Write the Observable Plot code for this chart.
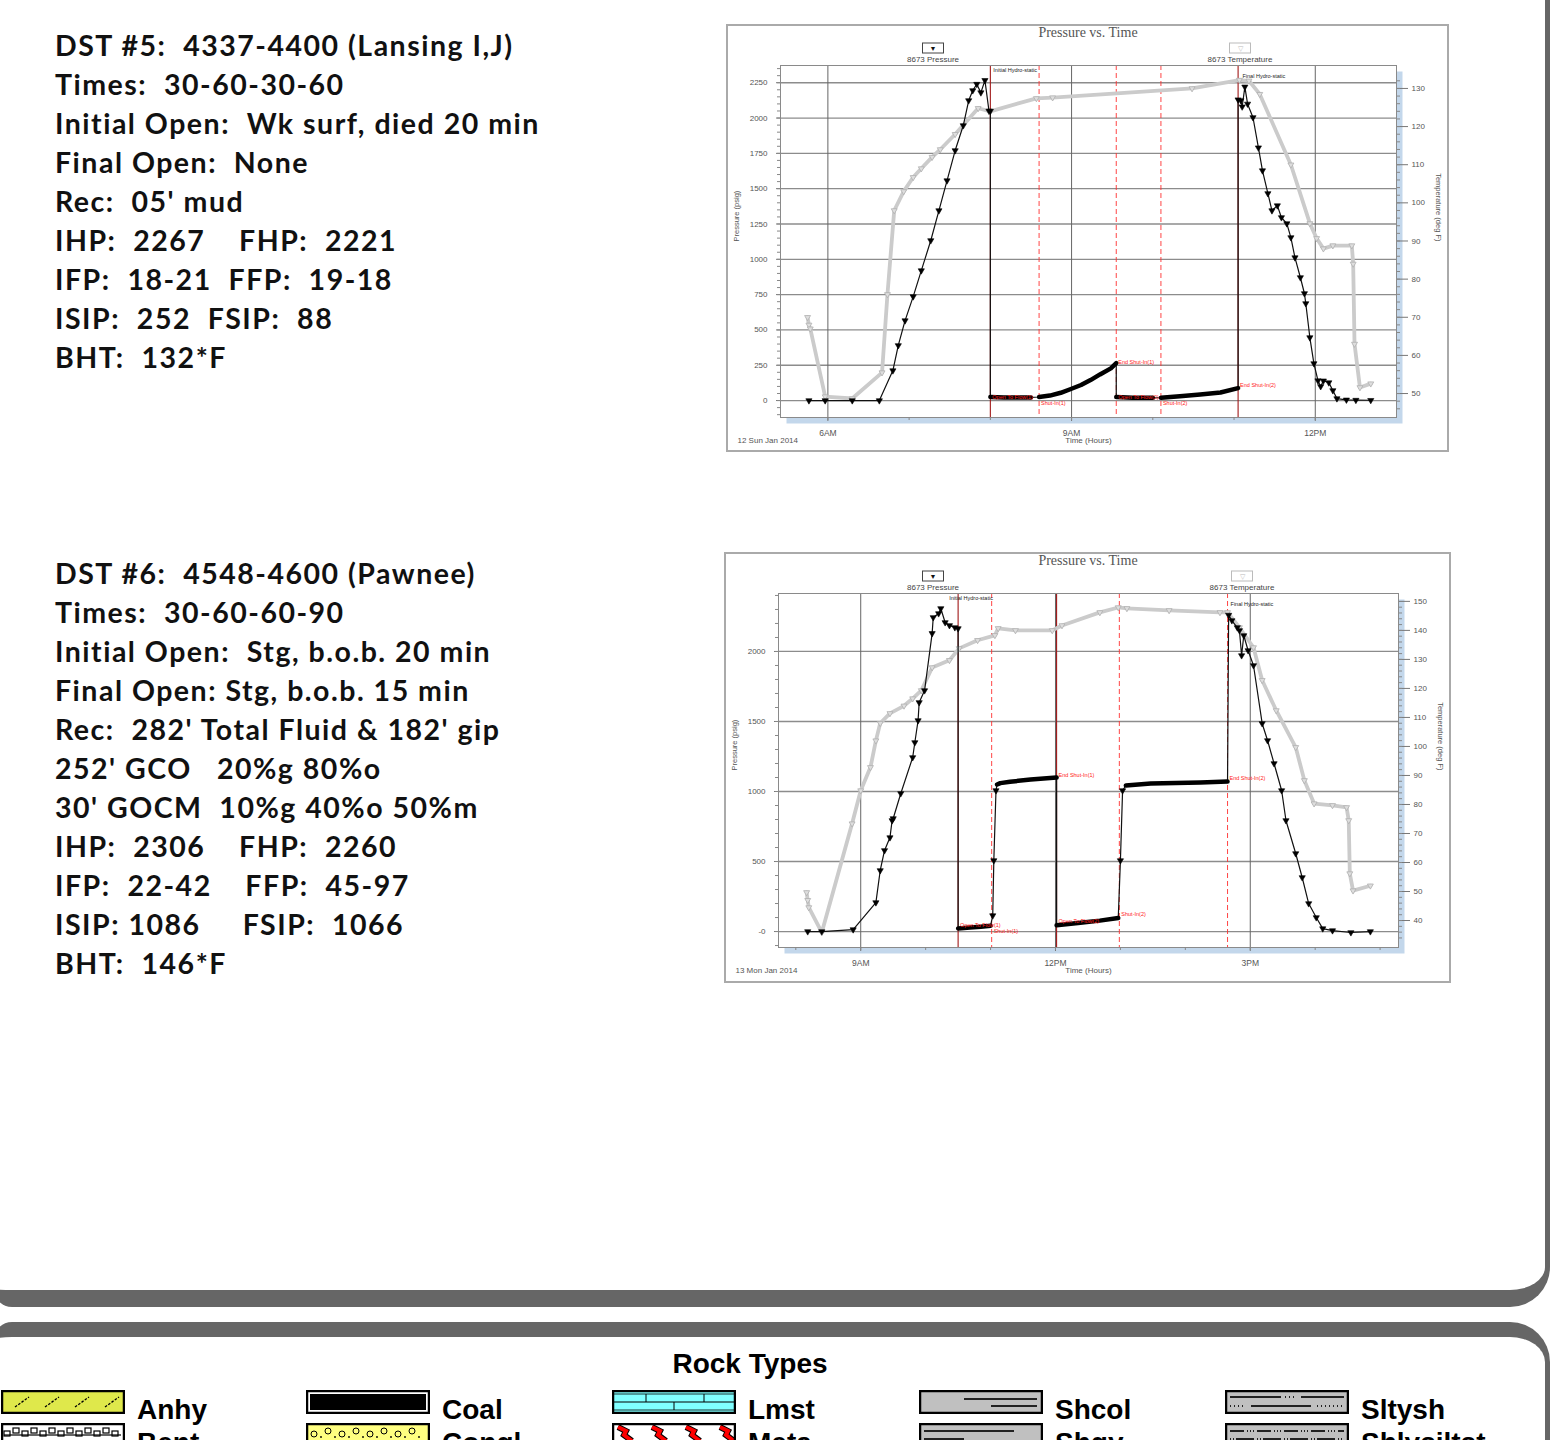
<!DOCTYPE html>
<html><head><meta charset="utf-8">
<script src="https://cdn.jsdelivr.net/npm/d3@7"></script>
<script src="https://cdn.jsdelivr.net/npm/@observablehq/plot@0.6"></script>
<style>
body{margin:0;width:1552px;height:1440px;position:relative;overflow:hidden;background:#fff;font-family:"Liberation Sans",Arial,sans-serif;}
.panelTop{position:absolute;left:-6px;top:-40px;width:1556px;height:1347px;box-sizing:border-box;border-style:solid;border-color:#666;border-width:0 5px 17px 0;border-radius:0 0 40px 18px;}
.panelBot{position:absolute;left:-6px;top:1322px;width:1556px;height:300px;box-sizing:border-box;border-style:solid;border-color:#666;border-width:15px 5px 0 0;border-radius:18px 40px 0 0;}
.dst{position:absolute;left:55px;font-family:Lato,"Open Sans",sans-serif;font-weight:700;font-size:28.5px;letter-spacing:1.5px;line-height:39px;white-space:pre;color:#111;}
.chart{position:absolute;outline:2px solid #aaa;outline-offset:-2px;background:#fff;}
.ttl{position:absolute;transform:translate(-50%,-50%);font-family:"Liberation Serif","DejaVu Serif",serif;font-size:14px;color:#555;white-space:nowrap;}
.lgbox{position:absolute;width:20px;height:9px;border:1px solid #444;transform:translate(-50%,-50%);font-size:7px;line-height:9px;text-align:center;color:#111;}
.lglab{position:absolute;transform:translate(-50%,-50%);font-size:8px;color:#444;white-space:nowrap;}
.rtitle{position:absolute;left:0;width:1500px;top:1348px;line-height:32px;text-align:center;font-weight:700;font-size:28px;color:#000;}
.rlab{position:absolute;font-weight:700;font-size:28px;line-height:32px;color:#000;white-space:nowrap;}
.sw{position:absolute;}
</style></head>
<body>
<div class="panelTop"></div>
<div class="panelBot"></div>
<div id="txt5" class="dst" style="top:26px"></div>
<div id="txt6" class="dst" style="top:554px"></div>
<div id="c1" class="chart" style="left:726px;top:24px;width:723px;height:428px"></div>
<div id="c2" class="chart" style="left:724px;top:552px;width:727px;height:431px"></div>
<div class="rtitle">Rock Types</div>
<div id="rocks"></div>
<script>
// ---------- text blocks ----------
const dst5Lines = [
"DST #5:  4337-4400 (Lansing I,J)",
"Times:  30-60-30-60",
"Initial Open:  Wk surf, died 20 min",
"Final Open:  None",
"Rec:  05' mud",
"IHP:  2267    FHP:  2221",
"IFP:  18-21  FFP:  19-18",
"ISIP:  252  FSIP:  88",
"BHT:  132*F"];
const dst6Lines = [
"DST #6:  4548-4600 (Pawnee)",
"Times:  30-60-60-90",
"Initial Open:  Stg, b.o.b. 20 min",
"Final Open: Stg, b.o.b. 15 min",
"Rec:  282' Total Fluid & 182' gip",
"252' GCO   20%g 80%o",
"30' GOCM  10%g 40%o 50%m",
"IHP:  2306    FHP:  2260",
"IFP:  22-42    FFP:  45-97",
"ISIP: 1086     FSIP:  1066",
"BHT:  146*F"];

// ---------- DST #5 chart data (12 Sun Jan 2014) ----------
const dst5Times = ["05:46","05:58","06:18","06:38","06:48","06:52","06:57","07:03","07:09","07:16","07:22","07:28","07:34","07:40","07:44","07:47","07:50","07:53","07:56","07:59","08:00",
 "08:00","08:10","08:20","08:30",
 "08:36","08:44","08:52","08:59","09:07","09:14","09:21","09:29","09:33",
 "09:33","09:45","10:00",
 "10:06","10:20","10:35","10:50","11:03",
 "11:03","11:05","11:06","11:08","11:10","11:14","11:18","11:21","11:25","11:28","11:32","11:35","11:39","11:42","11:45","11:49","11:52","11:53","11:56","11:59","12:02","12:04","12:06","12:10","12:13","12:16","12:23","12:30","12:41"];
const dst5Pressure = [0,0,0,0,212,390,566,736,920,1133,1345,1557,1770,1947,2124,2195,2240,2180,2267,2050,2050,
 25,22,21,22,
 25,35,55,80,110,145,185,228,265,
 25,20,19,
 20,30,42,57,88,
 2130,2124,2080,2221,2100,2004,1790,1628,1466,1345,1380,1296,1253,1154,1012,871,758,687,446,262,141,100,140,127,71,14,5,3,2];
const dst5Phase = ["run","run","run","run","run","run","run","run","run","run","run","run","run","run","run","run","run","run","run","run","run",
 "flow1","flow1","flow1","flow1",
 "shut1","shut1","shut1","shut1","shut1","shut1","shut1","shut1","shut1",
 "flow2","flow2","flow2",
 "shut2","shut2","shut2","shut2","shut2",
 "pull","pull","pull","pull","pull","pull","pull","pull","pull","pull","pull","pull","pull","pull","pull","pull","pull","pull","pull","pull","pull","pull","pull","pull","pull","pull","pull","pull","pull"];
const dst5TempTimes = ["05:45","05:46","05:47","05:58","06:18","06:40","06:44","06:49","06:56","07:03","07:09","07:17","07:23","07:34","07:51","08:00","08:34","08:46","10:29","11:04","11:11","11:19","11:42","11:56","12:01","12:06","12:13","12:27","12:28","12:29","12:33","12:41"];
const dst5Temp = [70,68,67,49.2,48.7,55.5,76,98,103,106.7,109,112,114,118,124.8,124,127.4,127.6,130,132.2,132,128.5,110,94.6,90.7,88,88.8,88.8,84,63,51.6,52.6];
const dst5EventTimes = ["08:00","08:36","09:33","10:06","11:03"];
const dst5EventNames = ["Open To Flow(1)","Shut-In(1)","End Shut-In(1)","Shut-In(2)","End Shut-In(2)"];
const dst5NoteNames = ["Initial Hydro-static","Final Hydro-static","Open To Flow(1)","Shut-In(1)","End Shut-In(1)","Open To Flow(2)","Shut-In(2)","End Shut-In(2)"];
const dst5NoteTimes = ["08:00","11:04","08:00","08:36","09:33","09:33","10:06","11:03"];
const dst5NoteValues = [2336,2294,22,-22,270,22,-18,110];
const dst5PTicks = [0,250,500,750,1000,1250,1500,1750,2000,2250];
const dst5PTickLabels = ["0","250","500","750","1000","1250","1500","1750","2000","2250"];
const dst5TTicks = [50,60,70,80,90,100,110,120,130];
const dst5XTicks = ["06:00","09:00","12:00"];
const dst5XLabels = ["6AM","9AM","12PM"];

// ---------- DST #6 chart data (13 Mon Jan 2014) ----------
const dst6Times = ["08:11","08:24","08:53","09:14","09:18","09:22","09:27","09:29","09:30","09:37","09:48","09:50","09:53","09:54","09:59","10:06","10:07","10:12","10:14","10:18","10:22","10:27","10:30",
 "10:30","10:41","10:51","11:00",
 "11:02","11:03","11:05",
 "11:06","11:09","11:18","11:37","12:01",
 "12:01","12:23","12:41","12:58",
 "13:00","13:02",
 "13:05","13:28","14:14","14:39",
 "14:40","14:43","14:48","14:50","14:52","14:54","14:58","15:03","15:11","15:16","15:22","15:29","15:33","15:42","15:48","15:54","16:01","16:07","16:16","16:33","16:51"];
const dst6Pressure = [0,0,14,207,436,579,671,793,807,986,1243,1350,1507,1636,1721,2129,2243,2271,2307,2207,2186,2171,2164,
 22,28,35,42,
 114,507,1007,
 1050,1060,1070,1085,1100,
 45,62,78,97,
 507,1007,
 1043,1057,1064,1071,
 2260,2221,2171,2150,1971,2114,2007,1900,1486,1364,1200,1007,793,557,386,200,100,21,7,-7,0];
const dst6Phase = ["run","run","run","run","run","run","run","run","run","run","run","run","run","run","run","run","run","run","run","run","run","run","run",
 "flow1","flow1","flow1","flow1",
 "jump","jump","jump",
 "shut1","shut1","shut1","shut1","shut1",
 "flow2","flow2","flow2","flow2",
 "jump","jump",
 "shut2","shut2","shut2","shut2",
 "pull","pull","pull","pull","pull","pull","pull","pull","pull","pull","pull","pull","pull","pull","pull","pull","pull","pull","pull","pull","pull"];
const dst6TempTimes = ["08:10","08:11","08:12","08:24","08:52","09:00","09:09","09:14","09:18","09:27","09:40","09:48","09:56","10:06","10:22","10:31","10:48","11:04","11:07","11:23","11:57","12:06","12:41","12:58","13:06","13:45","14:32","14:39","14:50","15:03","15:11","15:24","15:42","15:50","15:59","16:16","16:29","16:31","16:32","16:35","16:51"];
const dst6Temp = [49.7,47,44.5,35.9,73.4,84.8,92.8,102,108,111.4,114,116.5,119.3,127.2,129.7,133.8,136.6,138.3,140.7,140,140,141.7,146.2,147.9,147.6,146.9,146.2,146.2,141,134.1,122.8,112.4,99.7,88.3,80.3,79.7,79,74.5,56.2,50.3,52];
const dst6EventTimes = ["10:30","11:01","12:01","12:59","14:39"];
const dst6EventNames = ["Open To Flow(1)","Shut-In(1)","End Shut-In(1)","Shut-In(2)","End Shut-In(2)"];
const dst6NoteNames = ["Initial Hydro-static","Final Hydro-static","Open To Flow(1)","Shut-In(1)","End Shut-In(1)","Open To Flow(2)","Shut-In(2)","End Shut-In(2)"];
const dst6NoteTimes = ["10:19","14:39","10:30","11:01","12:01","12:01","12:59","14:39"];
const dst6NoteValues = [2379,2336,45,5,1114,75,125,1093];
const dst6PTicks = [0,500,1000,1500,2000];
const dst6PTickLabels = ["-0","500","1000","1500","2000"];
const dst6TTicks = [40,50,60,70,80,90,100,110,120,130,140,150];
const dst6XTicks = ["09:00","12:00","15:00"];
const dst6XLabels = ["9AM","12PM","3PM"];

// ---------- rock legend ----------
const rockRow1 = ["Anhy","Coal","Lmst","Shcol","Sltysh"];
const rockRow2 = ["Bent","Congl","Meta","Shgy","Shlysiltst"];

// ===================================================
document.getElementById("txt5").textContent = dst5Lines.join("\n");
document.getElementById("txt6").textContent = dst6Lines.join("\n");

const parse = d3.timeParse("%Y-%m-%d %H:%M");
const denseSet = new Set(["flow1","shut1","flow2","shut2"]);

function buildChart(el, cfg) {
  const T = s => parse(cfg.date + " " + s);
  const press = cfg.times.map((t, i) => ({t: T(t), p: cfg.pressure[i], phase: cfg.phase[i]}));
  const temp = cfg.tempTimes.map((t, i) => ({t: T(t), p: cfg.toP(cfg.temp[i])}));
  const events = cfg.eventTimes.map((t, i) => ({t: T(t), name: cfg.eventNames[i]}));
  const notes = cfg.noteNames.map((n, i) => ({t: T(cfg.noteTimes[i]), p: cfg.noteValues[i], name: n}));
  const xMaj = cfg.xTicks.map(T);
  const xLab = new Map(xMaj.map((d, i) => [+d, cfg.xLabels[i]]));
  const [d0, d1] = cfg.xDomain.map(T);
  const xMin = d3.timeHour.range(d0, d1);
  const pLab = new Map(cfg.pTicks.map((d, i) => [d, cfg.pTickLabels[i]]));
  const pMinor = d3.range(Math.ceil(cfg.yDomain[0] / cfg.pMinorStep) * cfg.pMinorStep, cfg.yDomain[1], cfg.pMinorStep);
  const tMin = cfg.fromP(cfg.yDomain[0] + 60), tMax = cfg.fromP(cfg.yDomain[1] - 60);
  const tMinor = d3.range(Math.ceil(tMin / 2) * 2, tMax, 2);
  const solid = e => cfg.solidEvents.includes(e.name);
  const hydro = n => n.name.includes("Hydro");

  const svg = Plot.plot({
    width: cfg.width, height: cfg.height,
    marginLeft: 54, marginRight: 53, marginTop: 41, marginBottom: cfg.height - 41 - cfg.plotH,
    style: {background: "transparent", fontFamily: "'Liberation Sans', Arial, sans-serif", fontSize: "8px", color: "#555", overflow: "visible"},
    x: {type: "time", domain: [d0, d1]},
    y: {domain: cfg.yDomain},
    marks: [
      Plot.frame({fill: "#c3d7eb", dx: 6, dy: 6}),
      Plot.frame({fill: "#fff"}),
      Plot.gridY(cfg.pTicks, {stroke: "#8c8c8c", strokeOpacity: 1, strokeWidth: 1.3}),
      Plot.gridX(xMaj, {stroke: "#666", strokeOpacity: 1, strokeWidth: 1}),
      Plot.ruleX(events.filter(e => !solid(e)), {x: "t", stroke: "#ff3030", strokeWidth: 0.9, strokeDasharray: "5,3"}),
      Plot.ruleX(events.filter(solid), {x: "t", stroke: "#a01818", strokeWidth: 1.1}),
      Plot.line(temp, {x: "t", y: "p", stroke: "#cbcbcb", strokeWidth: 3.8}),
      Plot.dot(temp, {x: "t", y: "p", symbol: "triangle", rotate: 180, r: 2.2, stroke: "#b0b0b0", strokeWidth: 0.8, fill: "#dedede"}),
      Plot.line(press, {x: "t", y: "p", stroke: "#111", strokeWidth: 1.2}),
      Plot.line(press.filter(d => denseSet.has(d.phase)), {x: "t", y: "p", z: "phase", stroke: "#000", strokeWidth: 4.5}),
      Plot.dot(press.filter(d => !denseSet.has(d.phase)), {x: "t", y: "p", symbol: "triangle", rotate: 180, r: 2.3, fill: "#000", stroke: "#000", strokeWidth: 0.6}),
      Plot.text(notes.filter(hydro), {x: "t", y: "p", text: "name", fill: "#222", fontSize: 5.5, textAnchor: "start", dx: 3}),
      Plot.text(notes.filter(n => !hydro(n)), {x: "t", y: "p", text: "name", fill: "#ff2020", fontSize: 5.5, textAnchor: "start", dx: 2}),
      Plot.frame({stroke: "#8a8a8a", strokeWidth: 1}),
      Plot.axisY(cfg.pTicks, {anchor: "left", tickSize: 4, tickPadding: 9, tickFormat: d => pLab.get(d), fontSize: 8, label: null, stroke: "#777"}),
      Plot.axisY(pMinor, {anchor: "left", tickSize: 3, tickFormat: () => "", label: null, stroke: "#888"}),
      Plot.axisY(cfg.tTicks.map(cfg.toP), {anchor: "right", tickSize: 11, tickPadding: 4, tickFormat: d => String(Math.round(cfg.fromP(d))), fontSize: 8, label: null, stroke: "#777"}),
      Plot.axisY(tMinor.map(cfg.toP), {anchor: "right", tickSize: 3, tickFormat: () => "", label: null, stroke: "#888"}),
      Plot.axisX(xMaj, {anchor: "bottom", tickSize: 4, tickPadding: 8, tickFormat: d => xLab.get(+d), fontSize: 8.5, label: null, stroke: "#777"}),
      Plot.axisX(xMin, {anchor: "bottom", tickSize: 3, tickFormat: () => "", label: null, stroke: "#888"}),
      Plot.text(["Pressure (psig)"], {text: d => d, frameAnchor: "left", dx: -44, rotate: -90, fontSize: 7.5, fill: "#555"}),
      Plot.text(["Temperature (deg F)"], {text: d => d, frameAnchor: "right", dx: 42, rotate: 90, fontSize: 7.5, fill: "#555"}),
      Plot.text(["Time (Hours)"], {text: d => d, frameAnchor: "bottom", dy: 25, fontSize: 8, fill: "#555"}),
      Plot.text([cfg.dateLabel], {text: d => d, frameAnchor: "bottom-left", dx: -43, dy: 25, textAnchor: "start", fontSize: 8, fill: "#555"})
    ]
  });
  el.appendChild(svg);
  const cx = 54 + (cfg.width - 107) / 2;
  el.insertAdjacentHTML("beforeend",
    `<div class="ttl" style="left:${cx}px;top:9px">Pressure vs. Time</div>
     <div class="lgbox" style="left:${cfg.legP}px;top:24px">&#9660;</div>
     <div class="lglab" style="left:${cfg.legP}px;top:35px">8673 Pressure</div>
     <div class="lgbox" style="left:${cfg.legT}px;top:24px;border-color:#bbb;color:#bbb">&#9661;</div>
     <div class="lglab" style="left:${cfg.legT}px;top:35px">8673 Temperature</div>`);
}

buildChart(document.getElementById("c1"), {
  date: "2014-01-12", dateLabel: "12 Sun Jan 2014",
  width: 723, height: 428, plotH: 352,
  times: dst5Times, pressure: dst5Pressure, phase: dst5Phase,
  tempTimes: dst5TempTimes, temp: dst5Temp,
  eventTimes: dst5EventTimes, eventNames: dst5EventNames, solidEvents: ["Open To Flow(1)", "End Shut-In(2)"],
  noteNames: dst5NoteNames, noteTimes: dst5NoteTimes, noteValues: dst5NoteValues,
  pTicks: dst5PTicks, pTickLabels: dst5PTickLabels, pMinorStep: 50,
  tTicks: dst5TTicks, xTicks: dst5XTicks, xLabels: dst5XLabels,
  xDomain: ["05:25", "13:00"], yDomain: [-120, 2372],
  toP: t => 49.6 + (t - 50) * 27.0, fromP: p => 50 + (p - 49.6) / 27.0,
  legP: 207, legT: 514
});
buildChart(document.getElementById("c2"), {
  date: "2014-01-13", dateLabel: "13 Mon Jan 2014",
  width: 727, height: 431, plotH: 354,
  times: dst6Times, pressure: dst6Pressure, phase: dst6Phase,
  tempTimes: dst6TempTimes, temp: dst6Temp,
  eventTimes: dst6EventTimes, eventNames: dst6EventNames, solidEvents: ["Open To Flow(1)", "End Shut-In(1)"],
  noteNames: dst6NoteNames, noteTimes: dst6NoteTimes, noteValues: dst6NoteValues,
  pTicks: dst6PTicks, pTickLabels: dst6PTickLabels, pMinorStep: 100,
  tTicks: dst6TTicks, xTicks: dst6XTicks, xLabels: dst6XLabels,
  xDomain: ["07:44", "17:17"], yDomain: [-114, 2414],
  toP: t => 78.6 + (t - 40) * 20.72, fromP: p => 40 + (p - 78.6) / 20.72,
  legP: 209, legT: 518
});

// ---------- rock swatches ----------
function swatch(name) {
  const W = 124, H = 24;
  let inner = "";
  const frame = `<rect x="1" y="1" width="${W-2}" height="${H-2}" fill="none" stroke="#000" stroke-width="2.5"/>`;
  if (name === "Anhy") {
    inner = `<rect x="1" y="1" width="${W-2}" height="${H-2}" fill="#dfe84b"/>` +
      [14, 44, 74, 104].map(x => `<line x1="${x}" y1="17" x2="${x+14}" y2="7" stroke="#000" stroke-width="1.3" stroke-dasharray="2.5,1.5"/>`).join("");
  } else if (name === "Coal") {
    inner = `<rect x="1" y="1" width="${W-2}" height="${H-2}" fill="#fff"/><rect x="4" y="4" width="${W-8}" height="${H-8}" fill="#000"/>`;
  } else if (name === "Lmst") {
    inner = `<rect x="1" y="1" width="${W-2}" height="${H-2}" fill="#80ffff"/><line x1="1" y1="12" x2="${W-1}" y2="12" stroke="#000" stroke-width="1.2"/>` +
      `<line x1="1" y1="4" x2="${W-1}" y2="4" stroke="#000" stroke-width="0.8"/><line x1="1" y1="20" x2="${W-1}" y2="20" stroke="#000" stroke-width="0.8"/>` +
      [34, 92].map(x => `<line x1="${x}" y1="4" x2="${x}" y2="12" stroke="#000" stroke-width="1"/>`).join("") +
      [62].map(x => `<line x1="${x}" y1="12" x2="${x}" y2="20" stroke="#000" stroke-width="1"/>`).join("");
  } else if (name === "Shcol") {
    inner = `<rect x="1" y="1" width="${W-2}" height="${H-2}" fill="#c0c0c0"/><line x1="45" y1="9" x2="118" y2="9" stroke="#222" stroke-width="2"/><line x1="72" y1="16" x2="118" y2="16" stroke="#222" stroke-width="2"/>`;
  } else if (name === "Sltysh") {
    inner = `<rect x="1" y="1" width="${W-2}" height="${H-2}" fill="#c0c0c0"/><line x1="5" y1="7" x2="56" y2="7" stroke="#222" stroke-width="2"/><line x1="60" y1="7" x2="72" y2="7" stroke="#222" stroke-width="2" stroke-dasharray="1,3"/><line x1="76" y1="7" x2="119" y2="7" stroke="#222" stroke-width="2"/>` +
      `<line x1="5" y1="16" x2="20" y2="16" stroke="#222" stroke-width="2" stroke-dasharray="1,3"/><line x1="26" y1="16" x2="86" y2="16" stroke="#222" stroke-width="2"/><line x1="92" y1="16" x2="119" y2="16" stroke="#222" stroke-width="2" stroke-dasharray="1,3"/>`;
  } else if (name === "Bent") {
    inner = `<rect x="1" y="1" width="${W-2}" height="${H-2}" fill="#fff"/>` +
      d3.range(3, 120, 9).map((x, i) => `<rect x="${x}" y="${i % 2 ? 5 : 8}" width="6" height="5" fill="none" stroke="#000" stroke-width="1.2"/><line x1="${x}" y1="12" x2="${x+9}" y2="12" stroke="#000" stroke-width="1.2"/>`).join("");
  } else if (name === "Congl") {
    inner = `<rect x="1" y="1" width="${W-2}" height="${H-2}" fill="#ffff80"/>` +
      d3.range(8, 120, 14).map((x, i) => `<circle cx="${x}" cy="${i % 2 ? 8 : 11}" r="3" fill="none" stroke="#000" stroke-width="1"/><circle cx="${x+7}" cy="14" r="0.9" fill="#000"/>`).join("");
  } else if (name === "Meta") {
    inner = `<rect x="1" y="1" width="${W-2}" height="${H-2}" fill="#fff"/>` +
      [6, 40, 74, 108].map(x => `<path d="M${x},4 l8,4 l-2,4 l8,6" fill="none" stroke="#000" stroke-width="6"/><path d="M${x},4 l8,4 l-2,4 l8,6" fill="none" stroke="#ff0000" stroke-width="4"/>`).join("");
  } else if (name === "Shgy") {
    inner = `<rect x="1" y="1" width="${W-2}" height="${H-2}" fill="#c0c0c0"/><line x1="5" y1="8" x2="95" y2="8" stroke="#222" stroke-width="2"/><line x1="5" y1="16" x2="45" y2="16" stroke="#222" stroke-width="2"/>`;
  } else {
    inner = `<rect x="1" y="1" width="${W-2}" height="${H-2}" fill="#c0c0c0"/><line x1="5" y1="8" x2="119" y2="8" stroke="#222" stroke-width="2" stroke-dasharray="14,3,1,2,1,2,1,3"/><line x1="5" y1="16" x2="119" y2="16" stroke="#222" stroke-width="2" stroke-dasharray="1,2,1,2,18,3"/>`;
  }
  return `<svg width="${W}" height="${H}" viewBox="0 0 ${W} ${H}">${inner}${frame}</svg>`;
}
const colX = [1, 306, 612, 919, 1225];
let rockHtml = "";
[rockRow1, rockRow2].forEach((row, r) => {
  row.forEach((name, c) => {
    const top = 1390 + r * 33;
    rockHtml += `<div class="sw" style="left:${colX[c]}px;top:${top}px">${swatch(name)}</div>`;
    rockHtml += `<div class="rlab" style="left:${colX[c] + 136}px;top:${top + 4}px">${name}</div>`;
  });
});
document.getElementById("rocks").innerHTML = rockHtml;
</script>
</body></html>
